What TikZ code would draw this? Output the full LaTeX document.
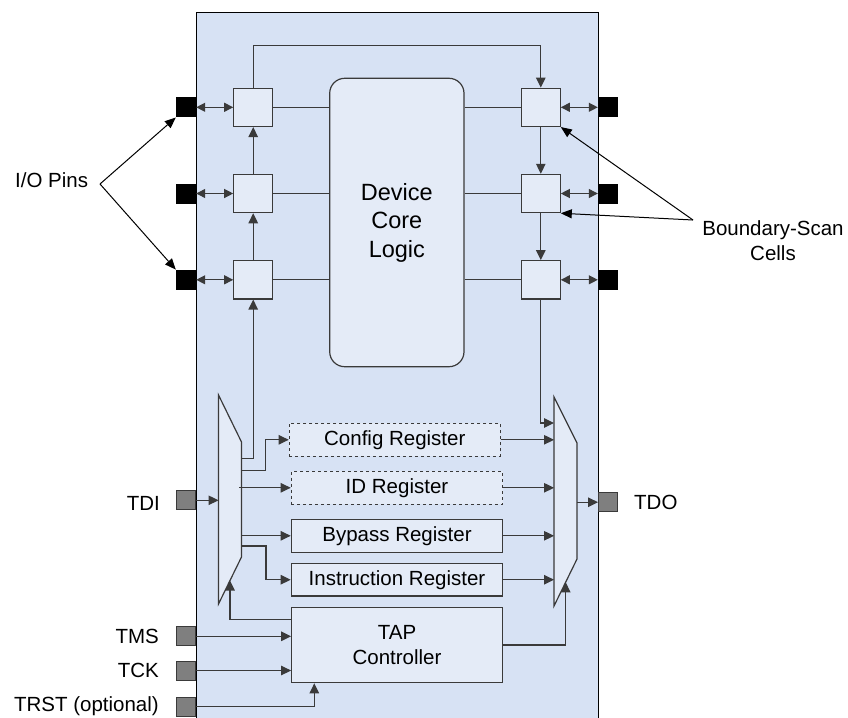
\documentclass[tikz,border=0pt]{standalone}
\usepackage{fontspec}
\setmainfont{Liberation Sans}
\usetikzlibrary{arrows.meta,calc}
\definecolor{bodyc}{HTML}{D7E2F4}
\definecolor{innerc}{HTML}{E4EBF7}
\definecolor{linec}{HTML}{3A3A3A}
\definecolor{pingray}{HTML}{7F7F7F}
\tikzset{
  wire/.style={draw=linec, line width=1.2pt},
  arr/.style={wire, -{Triangle[length=10pt,width=9.5pt]}},
  darr/.style={wire, {Triangle[length=9pt,width=9pt]}-{Triangle[length=9pt,width=9pt]}},
  cellbox/.style={draw=linec, line width=1.2pt, fill=innerc, minimum width=38.8pt, minimum height=38.3pt, inner sep=0pt},
  regbox/.style={draw=linec, line width=1.2pt, fill=innerc, minimum width=211pt, minimum height=33pt, inner sep=0pt,
     font=\fontsize{20.5}{25}\selectfont},
  pinblk/.style={fill=black, minimum width=20pt, minimum height=20pt, inner sep=0pt},
  pingry/.style={fill=pingray, draw=linec, line width=1pt, minimum width=19pt, minimum height=19pt, inner sep=0pt},
  lbl/.style={inner sep=0pt, font=\fontsize{20.5}{25}\selectfont},
  ptr/.style={draw=black, line width=1pt, -{Triangle[length=11pt,width=9pt]}},
}
\begin{document}
\begin{tikzpicture}[x=1pt,y=-1pt]
\clip (0,0) rectangle (848,717);
% chip body
\node[name=chip, fill=bodyc, draw=black, line width=1.4pt, minimum width=402.3pt, minimum height=740pt,
      inner sep=0pt, anchor=north west] at (195.7,11.7) {};

% core logic
\node[name=core, draw=linec, line width=1.2pt, fill=innerc, rounded corners=15pt, minimum width=134.3pt,
      minimum height=288.4pt, inner sep=0pt, align=center, font=\fontsize{23.5}{28.5}\selectfont]
      at (396.85,222.5) {Device\\Core\\Logic};

% boundary scan cells
\node[cellbox, name=cL1] at (253.2,107.3) {};
\node[cellbox, name=cL2] at (253.2,193.5) {};
\node[cellbox, name=cL3] at (253.2,279.8) {};
\node[cellbox, name=cR1] at (540.8,107.3) {};
\node[cellbox, name=cR2] at (540.8,193.5) {};
\node[cellbox, name=cR3] at (540.8,279.8) {};

% I/O pins
\node[pinblk, name=pL1] at (186,107.3) {};
\node[pinblk, name=pL2] at (186,193.5) {};
\node[pinblk, name=pL3] at (186,279.8) {};
\node[pinblk, name=pR1] at (608,107.3) {};
\node[pinblk, name=pR2] at (608,193.5) {};
\node[pinblk, name=pR3] at (608,279.8) {};

\foreach \i in {1,2,3}{
  \draw[darr] (pL\i.east) -- (cL\i.west);
  \draw[darr] (cR\i.east) -- (pR\i.west);
  \draw[wire] (cL\i.east) -- (cL\i.east -| core.west);
  \draw[wire] (core.east |- cR\i.west) -- (cR\i.west);
}

% scan chain in cells
\coordinate (loopy) at (0,45.7);
\draw[arr] (cL1.north) -- (cL1.north |- loopy) -| (cR1.north);
\draw[arr] (cL2.north) -- (cL1.south);
\draw[arr] (cL3.north) -- (cL2.south);
\draw[arr] (cR1.south) -- (cR2.north);
\draw[arr] (cR2.south) -- (cR3.north);

% multiplexers
\coordinate (mL1) at (218.5,395);
\coordinate (mL2) at (241.5,442);
\coordinate (mL3) at (241.5,557);
\coordinate (mL4) at (218.5,604);
\coordinate (mR1) at (554,397);
\coordinate (mR2) at (577,443);
\coordinate (mR3) at (577,559);
\coordinate (mR4) at (554,606);
\draw[wire, fill=innerc] (mL1) -- (mL2) -- (mL3) -- (mL4) -- cycle;
\draw[wire, fill=innerc] (mR1) -- (mR2) -- (mR3) -- (mR4) -- cycle;

% registers
\node[regbox, dashed, name=cfg] at (394.8,439.8) {Config Register};
\node[regbox, dashed, name=idr, minimum width=211.4pt] at (397,487.8) {ID Register};
\node[regbox, name=byp, minimum width=211.4pt] at (397,535.8) {Bypass Register};
\node[regbox, name=ins, minimum width=211.4pt, minimum height=32.7pt] at (397,579.7) {Instruction Register};
\node[regbox, name=tap, minimum width=210.6pt, minimum height=75pt, align=center] at (397,645.2) {TAP\\Controller};

% helper coordinates
\coordinate (xid) at (239.3,0);
\coordinate (tapLy) at (0,619.3);
\coordinate (tapRy) at (0,645);
\coordinate (trstx) at (314.3,0);
\coordinate (chainR) at (554,423);
\coordinate (muxLtip) at (230,580.5);
\coordinate (muxRtip) at (565.7,582.3);

% left mux outputs
\draw[arr] (241.5,458.3) -| (cL3.south);
\draw[arr] (241.5,470.7) -- (265.3,470.7) |- (cfg.west);
\draw[arr] (idr.west -| xid) -- (idr.west);
\draw[arr] (byp.west -| mL2) -- (byp.west);
\draw[arr] (241.5,546) -- (266,546) |- (ins.west);

% register outputs to right mux
\draw[arr] (cfg.east) -- (cfg.east -| mR1);
\draw[arr] (idr.east) -- (idr.east -| mR1);
\draw[arr] (byp.east) -- (byp.east -| mR1);
\draw[arr] (ins.east) -- (ins.east -| mR1);
\draw[arr] (cR3.south) |- (chainR);

% TAP control to muxes
\draw[arr] (tap.west |- tapLy) -| (muxLtip);
\draw[arr] (tap.east |- tapRy) -| (muxRtip);

% TDI / TDO
\node[pingry, name=tdi] at (186,500.3) {};
\node[pingry, name=tdo] at (608,502.2) {};
\draw[arr] (tdi.east) -- (tdi.east -| mL1);
\draw[arr] (tdo.west -| mR2) -- (tdo.west);

% TMS TCK TRST
\node[pingry, name=tms] at (186,636.3) {};
\node[pingry, name=tck] at (186,670.5) {};
\node[pingry, name=trst] at (186,706.5) {};
\draw[arr] (tms.east) -- (tms.east -| tap.west);
\draw[arr] (tck.east) -- (tck.east -| tap.west);
\draw[arr] (trst.east) -| (trstx |- tap.south);

% labels
\node[lbl, anchor=base east, name=tTDI] at (160,510) {TDI};
\node[lbl, anchor=base west, name=tTDO] at (634,509.5) {TDO};
\node[lbl, anchor=base east, name=tTMS] at (159,643.8) {TMS};
\node[lbl, anchor=base east, name=tTCK] at (159,677.8) {TCK};
\node[lbl, anchor=base east, name=tTRST] at (159,711.5) {TRST (optional)};
\node[lbl, anchor=base west, name=tIO] at (15,187) {I/O Pins};
\node[lbl, anchor=base, name=tBS] at (773,235) {Boundary-Scan};
\node[lbl, anchor=base, name=tCells] at (773,260) {Cells};

\coordinate (ioS) at (100,184);
\draw[ptr] (ioS) -- (pL1.south west);
\draw[ptr] (ioS) -- (pL3.north west);
\coordinate (bsS) at (693,220);
\draw[ptr] (bsS) -- (cR1.south east);
\draw[ptr] (bsS) -- (cR2.south east);
\end{tikzpicture}
\end{document}
